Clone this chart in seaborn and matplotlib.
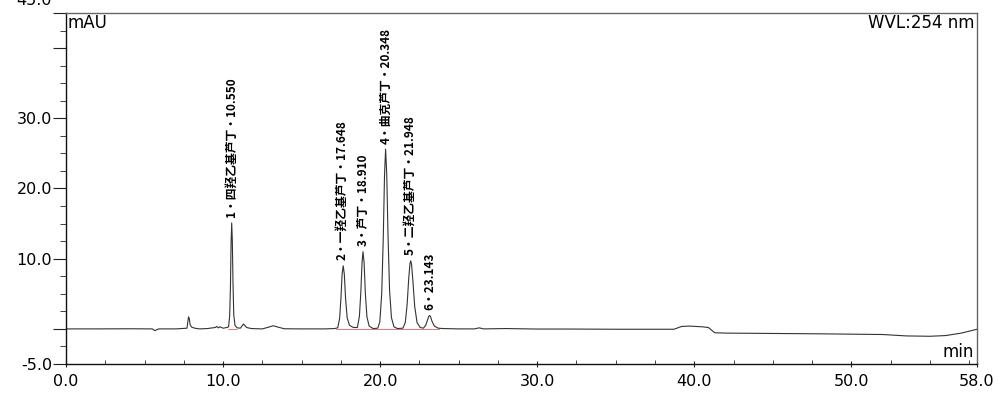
import numpy as np
import pandas as pd
import matplotlib
matplotlib.use("Agg")
import matplotlib.pyplot as plt
import matplotlib.transforms as mtransforms
from matplotlib.ticker import MultipleLocator, FixedLocator
import seaborn as sns

# Chromatogram trace (min, mAU)
trace_time = [0.0, 2.0, 4.0, 5.5, 5.65, 5.75, 5.9, 7.0, 7.7, 7.8, 7.85, 7.9, 8.0, 8.2, 8.5,
              9.0, 9.5, 9.6, 9.7, 9.8, 10.0, 10.25,
              10.35, 10.42, 10.47, 10.51, 10.55, 10.59, 10.63, 10.68, 10.76, 10.9,
              11.1, 11.3, 11.5, 11.8, 12.5, 12.9, 13.2, 13.5, 13.9, 15.0, 16.5, 17.1,
              17.3, 17.42, 17.5, 17.58, 17.648, 17.72, 17.8, 17.9, 18.05, 18.3,
              18.55, 18.68, 18.77, 18.85, 18.91, 18.98, 19.06, 19.16, 19.3, 19.55,
              19.85, 19.98, 20.1, 20.2, 20.28, 20.348, 20.42, 20.5, 20.6, 20.72, 20.88, 21.1,
              21.45, 21.6, 21.72, 21.82, 21.9, 21.948, 22.0, 22.08, 22.2, 22.35, 22.55,
              22.75, 22.9, 23.02, 23.1, 23.143, 23.2, 23.3, 23.45, 23.7,
              24.0, 25.0, 26.0, 26.3, 26.6, 28.0, 30.0, 32.0, 35.0, 38.7, 39.2, 39.7,
              40.5, 40.9, 41.3, 42.0, 45.0, 48.0, 50.0, 52.0, 53.5, 55.0, 56.0, 57.0, 58.0]
trace_signal = [0.0, 0.0, 0.02, 0.0, -0.25, -0.15, 0.0, 0.0, 0.1, 1.7, 1.5, 0.6, 0.25, 0.1, 0.0,
                0.05, 0.2, 0.35, 0.15, 0.3, 0.1, 0.2,
                0.3, 1.8, 6.0, 12.3, 15.1, 12.5, 6.8, 2.0, 0.5, 0.15,
                0.1, 0.7, 0.2, 0.05, 0.0, 0.25, 0.45, 0.25, 0.02, 0.0, 0.0, 0.05,
                0.15, 1.5, 4.2, 7.8, 9.0, 7.8, 4.3, 1.6, 0.5, 0.2,
                0.2, 1.8, 5.2, 9.5, 11.0, 9.4, 5.0, 1.7, 0.4, 0.05,
                0.1, 1.0, 5.0, 13.0, 22.0, 25.6, 22.0, 13.5, 5.5, 1.6, 0.3, 0.05,
                0.1, 0.9, 3.5, 7.2, 9.3, 9.7, 9.2, 7.0, 3.2, 0.9, 0.2,
                0.1, 0.5, 1.3, 1.8, 1.9, 1.8, 1.1, 0.4, 0.1,
                0.05, 0.0, 0.0, 0.15, 0.0, 0.05, -0.02, -0.02, -0.05, -0.05, 0.35, 0.4,
                0.3, 0.2, -0.55, -0.6, -0.65, -0.7, -0.75, -0.8, -1.0, -1.05, -0.95, -0.6, -0.05]

# Peaks
peak_rt = [10.550, 17.648, 18.910, 20.348, 21.948, 23.143]
peak_height = [15.1, 9.0, 11.0, 25.6, 9.7, 1.9]
peak_labels = ["1・四羟乙基芦丁・10.550", "2・一羟乙基芦丁・17.648", "3・芦丁・18.910",
               "4・曲克芦丁・20.348", "5・二羟乙基芦丁・21.948", "6・23.143"]

# Integration baselines (red)
baseline_start = [10.30, 17.20]
baseline_end = [10.90, 23.75]

ytick_major = [-5.0, 0.0, 10.0, 20.0, 30.0, 40.0, 45.0]
ytick_labels = ["-5.0", "", "10.0", "20.0", "30.0", "", "45.0"]
xtick_major = [0.0, 10.0, 20.0, 30.0, 40.0, 50.0, 58.0]

sns.set_style("ticks")
plt.rcParams['font.family'] = ['DejaVu Sans']
plt.rcParams['text.color'] = 'black'
plt.rcParams['xtick.labelcolor'] = 'black'
plt.rcParams['ytick.labelcolor'] = 'black'

fig = plt.figure(figsize=(10.01, 3.97), dpi=100)
ax = fig.add_axes([66 / 1001, 1 - 364 / 397, 911 / 1001, 351 / 397])

df = pd.DataFrame({"time": trace_time, "signal": trace_signal})
sns.lineplot(data=df, x="time", y="signal", ax=ax, color="#333333", lw=0.8,
             sort=False, estimator=None)

for s, e in zip(baseline_start, baseline_end):
    ax.plot([s, e], [0, 0], color="#e06060", lw=0.6, zorder=1)

for rt, h, lab in zip(peak_rt, peak_height, peak_labels):
    ax.annotate(lab, xy=(rt, h), xytext=(0, 4), textcoords="offset points",
                rotation=90, ha="center", va="bottom", fontsize=8.5, fontweight="bold",
                family=['Noto Sans CJK SC', 'DejaVu Sans'], color="black")

ax.set_xlim(0, 58)
ax.set_ylim(-5, 45)
ax.xaxis.set_major_locator(FixedLocator(xtick_major))
ax.xaxis.set_minor_locator(MultipleLocator(2.5))
ax.yaxis.set_major_locator(FixedLocator(ytick_major))
ax.yaxis.set_minor_locator(MultipleLocator(2.5))
ax.set_xticklabels([f"{v:.1f}" for v in xtick_major])
ax.set_yticklabels(ytick_labels)
ax.tick_params(axis="x", which="major", direction="inout", length=5, width=0.8,
               pad=4.5, labelsize=11.5, color="#222222")
ax.tick_params(axis="x", which="minor", direction="in", length=3, width=0.6, color="#222222")
ax.tick_params(axis="y", which="major", direction="out", length=9.5, width=0.8,
               pad=0.5, labelsize=11.5, color="#222222")
ax.tick_params(axis="y", which="minor", direction="out", length=4.3, width=0.6, color="#222222")
ax.set_xlabel("")
ax.set_ylabel("")

# top label sits higher and gets clipped by the image edge
top_lab = ax.get_yticklabels()[-1]
top_lab.set_transform(top_lab.get_transform() + mtransforms.ScaledTranslation(0, 10 / 72, fig.dpi_scale_trans))

for side in ["left", "bottom"]:
    ax.spines[side].set_color("#111111")
    ax.spines[side].set_linewidth(1.0)
for side in ["top", "right"]:
    ax.spines[side].set_visible(True)
    ax.spines[side].set_color("#666666")
    ax.spines[side].set_linewidth(1.0)

ax.text(0.002, 0.997, "mAU", transform=ax.transAxes, ha="left", va="top", fontsize=12)
ax.text(0.997, 0.997, "WVL:254 nm", transform=ax.transAxes, ha="right", va="top", fontsize=12)
ax.text(0.997, 0.008, "min", transform=ax.transAxes, ha="right", va="bottom", fontsize=12)

fig.savefig("out.png", dpi=100)
